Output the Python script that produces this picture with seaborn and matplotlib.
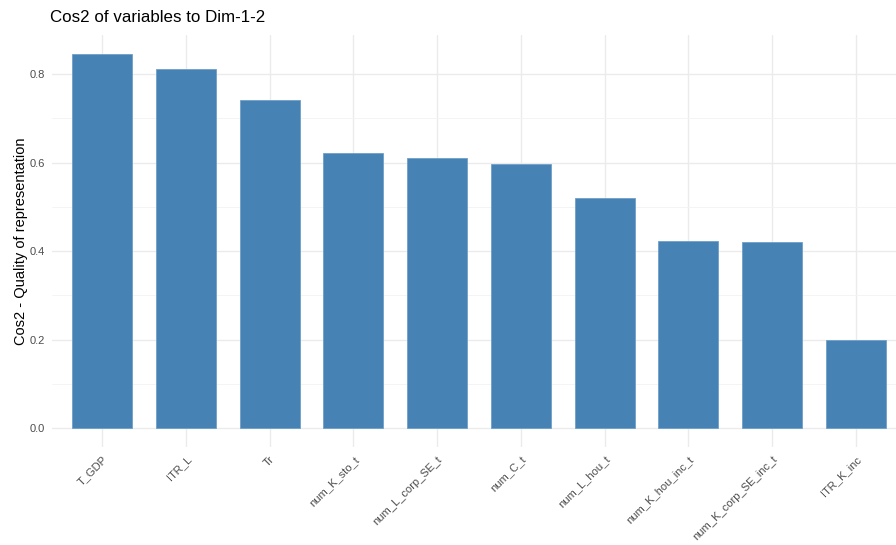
import matplotlib
matplotlib.use("Agg")
import matplotlib.pyplot as plt
import seaborn as sns
import pandas as pd
from matplotlib.ticker import MultipleLocator

categories = ["T_GDP", "ITR_L", "Tr", "num_K_sto_t", "num_L_corp_SE_t", "num_C_t",
              "num_L_hou_t", "num_K_hou_inc_t", "num_K_corp_SE_inc_t", "ITR_K_inc"]
cos2 = [0.846, 0.811, 0.742, 0.621, 0.610, 0.596, 0.520, 0.423, 0.421, 0.200]

df = pd.DataFrame({"name": categories, "cos2": cos2})

sns.set_theme(style="white")
plt.rcParams["font.family"] = ["Liberation Sans", "DejaVu Sans"]

fig = plt.figure(figsize=(8.96, 5.45), dpi=100)
ax = fig.add_axes([52/896, 1 - 447/545, (906 - 52)/896, (447 - 35)/545])

sns.barplot(data=df, x="name", y="cos2", color="#4682B4", width=0.715,
            saturation=1, ax=ax, edgecolor="#6f9fc8", linewidth=0.6, zorder=3)

ax.set_xlim(-0.6, len(categories) - 0.4)
ax.set_ylim(-0.0423, 0.888)
ax.yaxis.set_major_locator(MultipleLocator(0.2))
ax.yaxis.set_minor_locator(MultipleLocator(0.1))
ax.set_yticks([0.0, 0.2, 0.4, 0.6, 0.8])
ax.set_yticklabels(["0.0", "0.2", "0.4", "0.6", "0.8"])

ax.grid(True, which="major", color="#ebebeb", linewidth=1.0, zorder=0)
ax.grid(True, which="minor", axis="y", color="#f3f3f3", linewidth=0.6, zorder=0)
ax.set_axisbelow(True)
for s in ax.spines.values():
    s.set_visible(False)

ax.tick_params(axis="both", which="major", length=3, width=1.0, color="#333333",
               labelsize=8, labelcolor="#4d4d4d", pad=2)
ax.tick_params(axis="y", which="minor", length=0)
plt.setp(ax.get_xticklabels(), rotation=45, ha="right", rotation_mode="anchor")

ax.set_xlabel("")
ax.set_ylabel("Cos2 - Quality of representation", fontsize=10.5, color="black", labelpad=1)
fig.text(50/896, 1 - 18/545, "Cos2 of variables to Dim-1-2", fontsize=12.2,
         ha="left", va="center", color="black")

fig.savefig("out.png", dpi=100, facecolor="white")
